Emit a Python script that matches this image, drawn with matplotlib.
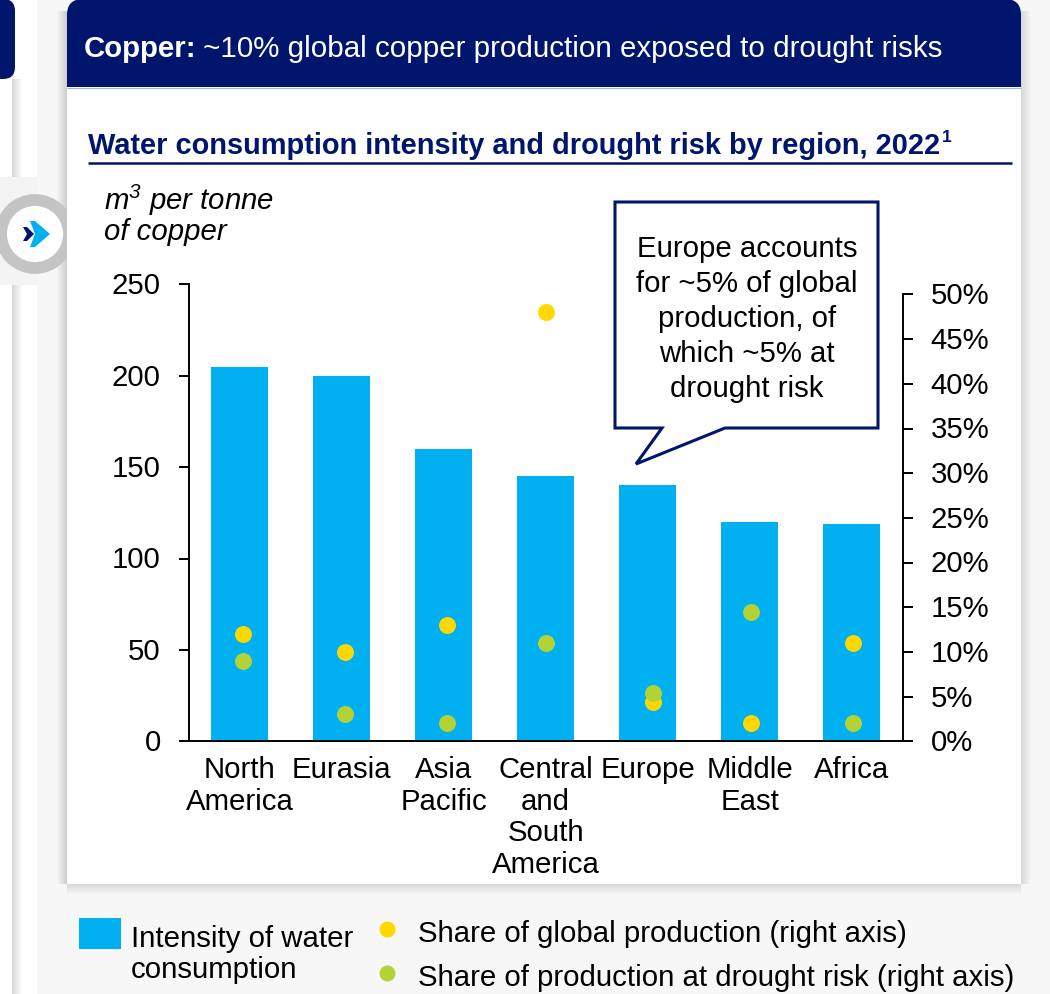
import numpy as np
import matplotlib.pyplot as plt
from matplotlib.patches import Rectangle, FancyBboxPatch, Polygon, Circle
from matplotlib.transforms import ScaledTranslation

plt.rcParams['font.family'] = ['Liberation Sans', 'DejaVu Sans']
plt.rcParams['mathtext.default'] = 'regular'

regions = ['North\nAmerica', 'Eurasia', 'Asia\nPacific', 'Central\nand\nSouth\nAmerica',
           'Europe', 'Middle\nEast', 'Africa']
intensity = [205, 200, 160, 145, 140, 120, 119]
global_share = [12, 10, 13, 48, 4.4, 2, 11]
drought_share = [9, 3, 2, 11, 5.4, 14.5, 2]
left_ticks = [0, 50, 100, 150, 200, 250]
right_ticks = [0, 5, 10, 15, 20, 25, 30, 35, 40, 45, 50]
# dots sit slightly right of the bar centres in the original
dot_shift = [0.03, 0.03, 0.03, 0, 0.05, 0.015, 0.015]

NAVY = '#00156C'
BLUE = '#00B0F0'
YELLOW = '#FFD800'
GREEN = '#B2D235'
FS = 21.2
W, H = 1050, 995


def px_axes(x0, y0, x1, y1):
    # axes rectangle given in image pixels, y going down
    return fig.add_axes([x0 / W, 1 - y1 / H, (x1 - x0) / W, (y1 - y0) / H])


fig = plt.figure(figsize=(10.5, 9.95), dpi=100, facecolor='#f7f7f7')

# page furniture, drawn in pixel coordinates
bg = fig.add_axes([0, 0, 1, 1], zorder=0)
bg.set_xlim(0, W)
bg.set_ylim(H, 0)
bg.axis('off')

bg.add_patch(Rectangle((0, 0), 37, H, fc='white', ec='none'))
for i in range(10):
    bg.add_patch(Rectangle((12, 80), 10 - i, H, fc='black', ec='none', alpha=0.014))
    bg.add_patch(Rectangle((67 - 10 + i, 12), 10 - i, 873, fc='black', ec='none', alpha=0.014))
    bg.add_patch(Rectangle((1021, 12), 10 - i, 873, fc='black', ec='none', alpha=0.01))
    bg.add_patch(Rectangle((67, 885), 954, 10 - i, fc='black', ec='none', alpha=0.01))
bg.add_patch(FancyBboxPatch((-30, 0), 45, 80, boxstyle='round,pad=0,rounding_size=12', fc=NAVY, ec='none'))
bg.add_patch(Rectangle((0, 178), 38, 108, fc='#f4f4f4', ec='none'))

bg.add_patch(Circle((35, 235), 34, fc='white', ec='#c4c4c4', lw=8.5))
bg.add_patch(Polygon([[23, 228], [27, 228], [34, 235], [27, 242], [23, 242], [27, 235]], fc=NAVY, ec='none'))
bg.add_patch(Polygon([[30, 222], [35, 222], [50, 235], [35, 248], [30, 248], [35, 235]], fc=BLUE, ec='none'))

bg.add_patch(Rectangle((67, 40), 954, 845, fc='white', ec='none'))
bg.add_patch(FancyBboxPatch((67, 0), 954, 110, boxstyle='round,pad=0,rounding_size=16', fc=NAVY, ec='none'))
bg.add_patch(Rectangle((67, 88), 954, 30, fc='white', ec='none'))
bg.plot([67, 1021], [88.5, 88.5], color='#A9B4DA', lw=0.8, solid_capstyle='butt')
bg.plot([88, 1012], [164, 164], color=NAVY, lw=1.8, solid_capstyle='butt')

# chart
ax = px_axes(188.8, 285.5, 902.5, 742.3)
ax.patch.set_alpha(0)
ax.set_zorder(2)
xs = np.arange(len(regions))
ax.bar(xs, intensity, width=0.556, color=BLUE)
ax.set_xlim(-0.5, 6.5)
ax.set_ylim(0, 250)
ax.set_yticks(left_ticks)
ax.set_xticks(xs)
ax.set_xticklabels(regions, fontsize=FS, linespacing=1.16)
ax.tick_params(axis='x', length=0, pad=10)
ax.tick_params(axis='y', labelsize=FS, length=7.2, width=1.4, pad=13)
ax.spines['top'].set_visible(False)
ax.spines['right'].set_visible(False)
for s in ['left', 'bottom']:
    ax.spines[s].set_linewidth(1.4)

ax2 = ax.twinx()
ax2.set_ylim(0, 50 * 457 / 447)
ax2.set_yticks(right_ticks)
ax2.set_yticklabels([f'{t}%' for t in right_ticks], fontsize=FS)
ax2.tick_params(axis='y', length=7.2, width=1.4, pad=13)
ax2.spines['top'].set_visible(False)
ax2.spines['left'].set_visible(False)
ax2.spines['bottom'].set_visible(False)
ax2.spines['right'].set_bounds(0, 50)
ax2.spines['right'].set_linewidth(1.4)
dot_x = xs + np.array(dot_shift)
ax2.scatter(dot_x, global_share, s=125, color=YELLOW, zorder=3, clip_on=False)
ax2.scatter(dot_x, drought_share, s=125, color=GREEN, zorder=3, clip_on=False)

# y labels sit a little higher than matplotlib centres them
nudge = ScaledTranslation(0, 1.5 / 72, fig.dpi_scale_trans)
for lab in ax.get_yticklabels() + ax2.get_yticklabels():
    lab.set_transform(lab.get_transform() + nudge)

# text and callout on top
top = fig.add_axes([0, 0, 1, 1], zorder=5)
top.set_xlim(0, W)
top.set_ylim(H, 0)
top.axis('off')

top.text(84, 49, 'Copper:', color='white', fontsize=FS, fontweight='bold', va='center')
top.text(203, 49, '~10% global copper production exposed to drought risks', color='white',
         fontsize=21.25, va='center')
top.text(88, 146, 'Water consumption intensity and drought risk by region, 2022', color=NAVY,
         fontsize=20.9, fontweight='bold', va='center')
top.text(942, 138, '1', color=NAVY, fontsize=12.5, fontweight='bold', va='center')
top.text(104, 200, 'm$^{3}$ per tonne', fontsize=FS, style='italic', va='center')
top.text(104, 232, 'of copper', fontsize=FS, style='italic', va='center')

top.add_patch(Polygon([[615, 203], [878, 203], [878, 429], [725, 429], [636, 465], [662, 429], [615, 429]],
                      fc='white', ec=NAVY, lw=2.2, joinstyle='miter'))
for y, line in zip([249, 284, 319, 354, 389],
                   ['Europe accounts', 'for ~5% of global', 'production, of', 'which ~5% at', 'drought risk']):
    top.text(747, y, line, fontsize=FS, ha='center', va='center')

# legend
top.add_patch(Rectangle((79, 919), 42, 31, fc=BLUE, ec='none'))
top.text(131, 939, 'Intensity of water', fontsize=FS, va='center')
top.text(131, 970, 'consumption', fontsize=FS, va='center')
top.scatter([387], [930], s=110, color=YELLOW)
top.scatter([387], [974], s=110, color=GREEN)
top.text(418, 934, 'Share of global production (right axis)', fontsize=FS, va='center')
top.text(418, 978, 'Share of production at drought risk (right axis)', fontsize=FS, va='center')

fig.savefig('out.png', dpi=100, facecolor=fig.get_facecolor())
